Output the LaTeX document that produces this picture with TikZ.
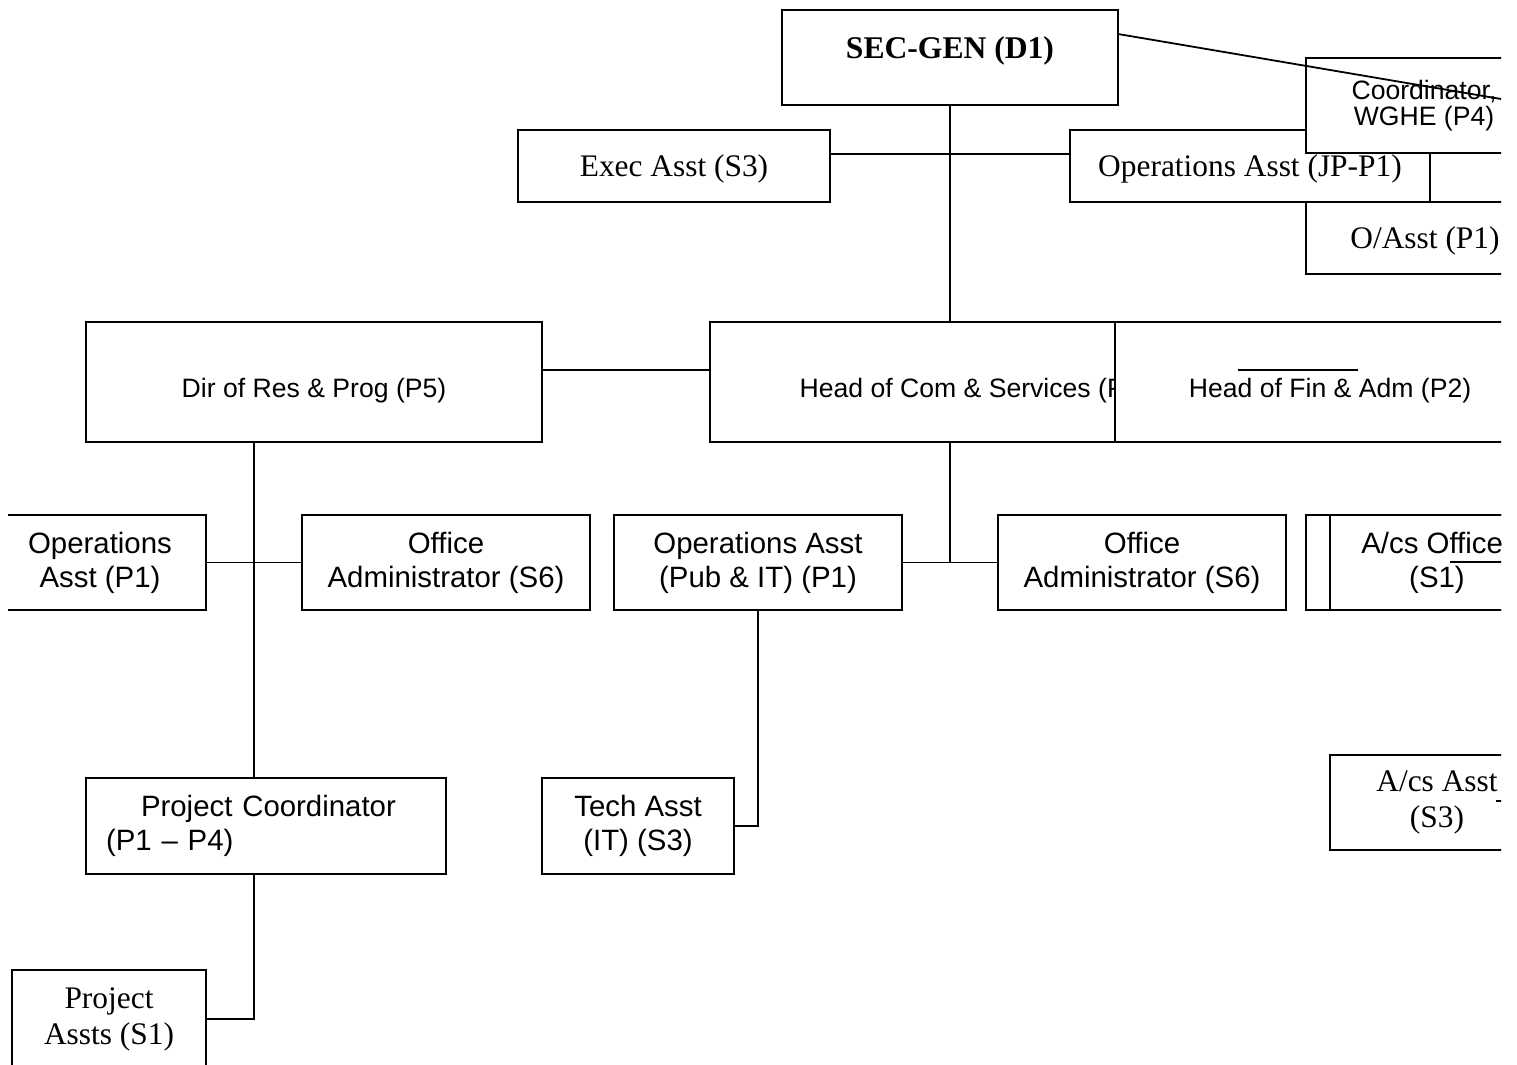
\documentclass[tikz,border=0pt]{standalone}
\usepackage{fontspec}
\setmainfont{Liberation Serif}
\newfontfamily\arialfont{Liberation Sans}
\tikzset{
  postbox/.style={draw, line width=0.9pt, fill=white, inner sep=0pt, align=center},
  seriftext/.style={font=\fontsize{15.7}{18}\selectfont},
  sanstext/.style={font=\arialfont\fontsize{14.7}{17}\selectfont},
  smallsans/.style={font=\arialfont\fontsize{13.3}{16}\selectfont},
  link/.style={line width=0.9pt}
}
\begin{document}
\begin{tikzpicture}[x=0.5pt, y=-0.5pt]
  \useasboundingbox (0,0) rectangle (1517,1065);
  \begin{scope}
    \clip (8,0) rectangle (1501,1065);
    % top of the chart
    \node[postbox, seriftext, font=\bfseries\fontsize{15.8}{18}\selectfont, text depth=10pt,
      minimum width=168pt, minimum height=47.5pt] (sec) at (950,57.5) {SEC-GEN (D1)};
    \node[postbox, seriftext, text height=14pt, minimum width=156pt, minimum height=36pt] (exec) at (674,166) {Exec Asst (S3)};
    \node[postbox, seriftext, text height=14pt, minimum width=180pt, minimum height=36pt] (ops) at (1250,166) {Operations Asst (JP-P1)};
    \node[postbox, smallsans, font=\arialfont\fontsize{13.3}{13}\selectfont, minimum width=118pt, minimum height=47.5pt] (coord) at (1424,105.5) {Coordinator,\\WGHE (P4)};
    \node[postbox, seriftext, text height=14pt, minimum width=119pt, minimum height=36pt] (oasst) at (1425,238) {O/Asst (P1)};
    \coordinate (j1) at (950,154);
    \draw[link] (sec.south) -- (950,322);
    \draw[link] (exec.east |- j1) -- (ops.west |- j1);
    \coordinate (cend) at (1501,99);
    \draw[link] (1118,34) -- (cend);

    % heads
    \node[postbox, smallsans, text height=18.5pt, text depth=2.8pt, minimum width=228pt, minimum height=60pt] (dir) at (314,382) {Dir of Res \& Prog (P5)};
    \node[postbox, smallsans, text height=18.5pt, text depth=2.8pt, minimum width=264pt, minimum height=60pt] (hcs) at (974,382) {Head of Com \& Services (P4)};
    \node[postbox, smallsans, text height=18.5pt, text depth=2.8pt, line width=0.6pt, minimum width=215pt, minimum height=60pt] (hfa) at (1330,382) {Head of Fin \& Adm (P2)};
    \draw[link] (1238,370) -- (1358,370);
    \coordinate (j2) at (626,370);
    \draw[link] (dir.east |- j2) -- (hcs.west |- j2);

    % middle row
    \node[postbox, sanstext, minimum width=106pt, minimum height=47.5pt] (opl) at (100,562.5) {Operations\\Asst (P1)};
    \node[postbox, sanstext, minimum width=144pt, minimum height=47.5pt] (offa) at (446,562.5) {Office\\Administrator (S6)};
    \node[postbox, sanstext, minimum width=144pt, minimum height=47.5pt] (opspi) at (758,562.5) {Operations Asst\\(Pub \& IT) (P1)};
    \node[postbox, sanstext, minimum width=144pt, minimum height=47.5pt] (offb) at (1142,562.5) {Office\\Administrator (S6)};
    \node[postbox, minimum width=119pt, minimum height=47.5pt] (acso) at (1425,562.5) {};
    \node[postbox, sanstext, minimum width=107pt, minimum height=47.5pt] (acs) at (1437,562.5) {A/cs Officer\\(S1)};
    \draw[link] (1450,562) -- (1510,562);
    \coordinate (j3) at (254,562);
    \coordinate (j4) at (950,562);
    \draw[link] (dir.south -| j3) -- (j3);
    \draw[link] (opl.east) -- (offa.west);
    \draw[link] (hcs.south -| j4) -- (j4);
    \draw[link] (opspi.east) -- (offb.west);

    % lower rows
    \node[postbox, sanstext, align=left, text width=160pt, minimum width=180pt, minimum height=48pt] (pc) at (266,826) {\hspace*{17.5pt}Project Coordinator\\(P1 – P4)};
    \node[postbox, sanstext, minimum width=96pt, minimum height=48pt] (tech) at (638,826) {Tech Asst\\(IT) (S3)};
    \node[postbox, seriftext, minimum width=107pt, minimum height=47.5pt] (acsa) at (1437,802.5) {A/cs Asst\\(S3)};
    \draw[link] (1496,801) -- (1510,801);
    \node[postbox, seriftext, minimum width=97pt, minimum height=49pt] (pa) at (109,1019) {Project\\Assts (S1)};
    \draw[link] (j3) -- (pc.north -| j3);
    \draw[link] (opspi.south) |- (tech.east);
    \draw[link] (pc.south -| j3) |- (pa.east);
  \end{scope}
\end{tikzpicture}
\end{document}
